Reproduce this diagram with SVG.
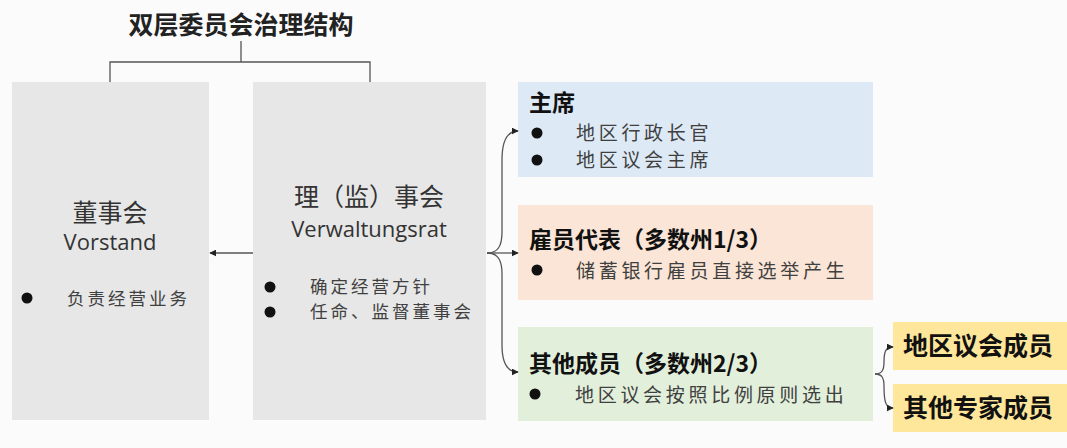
<svg xmlns="http://www.w3.org/2000/svg" width="1067" height="448" viewBox="0 0 1067 448">
<defs>
<marker id="ah" viewBox="0 0 10 10" refX="9" refY="5" markerWidth="7" markerHeight="7" orient="auto" markerUnits="userSpaceOnUse">
<path d="M0,0 L10,5 L0,10 Z" fill="#222"/>
</marker>
<style>
.cn{font-family:"Noto Sans CJK SC","Noto Sans",sans-serif;}
.t{font-family:"Noto Sans CJK SC","Noto Sans",sans-serif;font-size:17.5px;fill:#404040;letter-spacing:3px;}
.t2{font-family:"Noto Sans CJK SC","Noto Sans",sans-serif;font-size:19px;fill:#404040;letter-spacing:3.7px;}
.h{font-family:"Noto Sans CJK SC","Noto Sans",sans-serif;font-size:23px;font-weight:bold;fill:#111;}
.y{font-family:"Noto Sans CJK SC","Noto Sans",sans-serif;font-size:25px;font-weight:bold;fill:#111;}
.big{font-family:"Noto Sans CJK SC","Open Sans",sans-serif;font-size:25px;fill:#333;text-anchor:middle;}
.lat{font-family:"Open Sans","Noto Sans",sans-serif;font-size:22px;fill:#333;text-anchor:middle;}
.c{fill:none;stroke:#555;stroke-width:1.3;}
.b{fill:#111;}
</style>
</defs>
<rect width="1067" height="448" fill="#fbfbfb"/>
<g id="title">
<text x="241" y="34" class="cn" font-size="25" font-weight="bold" fill="#222" text-anchor="middle">双层委员会治理结构</text>
</g>
<g id="vorstand">
<rect x="12" y="82" width="197" height="338" fill="#e7e7e7"/>
<text x="110" y="222" class="big">董事会</text>
<text x="110" y="250" class="lat">Vorstand</text>
<circle cx="27" cy="298" r="5.5" class="b"/>
<text x="67" y="305" class="t">负责经营业务</text>
</g>
<g id="verwaltungsrat">
<rect x="253" y="82" width="233" height="338" fill="#e7e7e7"/>
<text x="369" y="206" class="big">理（监）事会</text>
<text x="369" y="237" class="lat">Verwaltungsrat</text>
<circle cx="270" cy="287" r="5.5" class="b"/>
<text x="310" y="293" class="t">确定经营方针</text>
<circle cx="270" cy="312" r="5.5" class="b"/>
<text x="310" y="318" class="t">任命、监督董事会</text>
</g>
<g id="chair">
<rect x="518" y="82" width="355" height="95" fill="#dde9f5"/>
<text x="529" y="111" class="h">主席</text>
<circle cx="537" cy="133" r="5.5" class="b"/>
<text x="576" y="140" class="t2">地区行政长官</text>
<circle cx="537" cy="160" r="5.5" class="b"/>
<text x="576" y="167" class="t2">地区议会主席</text>
</g>
<g id="employees">
<rect x="518" y="205" width="355" height="95" fill="#fbe5d6"/>
<text x="529" y="248" class="h">雇员代表（多数州1/3）</text>
<circle cx="537" cy="270" r="5.5" class="b"/>
<text x="576" y="278" class="t2">储蓄银行雇员直接选举产生</text>
</g>
<g id="others">
<rect x="518" y="327" width="355" height="94" fill="#e2efda"/>
<text x="529" y="372" class="h">其他成员（多数州2/3）</text>
<circle cx="535" cy="394" r="5.5" class="b"/>
<text x="575" y="402" class="t2">地区议会按照比例原则选出</text>
</g>
<g id="council">
<rect x="893" y="322" width="174" height="48" fill="#fee69a"/>
<text x="903" y="355" class="y">地区议会成员</text>
</g>
<g id="experts">
<rect x="893" y="384" width="174" height="48" fill="#fee69a"/>
<text x="903" y="417" class="y">其他专家成员</text>
</g>
<g id="connectors">
<path class="c" d="M241,41 V62 M110,82 V62 H370 V82"/>
<path class="c" d="M253,253 H210" marker-end="url(#ah)"/>
<path class="c" d="M487,253 C498,253 502,246 502,232 L502,160 C502,140 507,131 518,131" marker-end="url(#ah)"/>
<path class="c" d="M487,253 H518" marker-end="url(#ah)"/>
<path class="c" d="M487,253 C498,253 502,260 502,274 L502,345 C502,363 507,372 518,372" marker-end="url(#ah)"/>
<path class="c" d="M875,374 C882,374 884,370 884,362 C884,351 886,347 893,347" marker-end="url(#ah)"/>
<path class="c" d="M875,374 C882,374 884,378 884,386 C884,403 886,408 893,408" marker-end="url(#ah)"/>
</g>
</svg>
